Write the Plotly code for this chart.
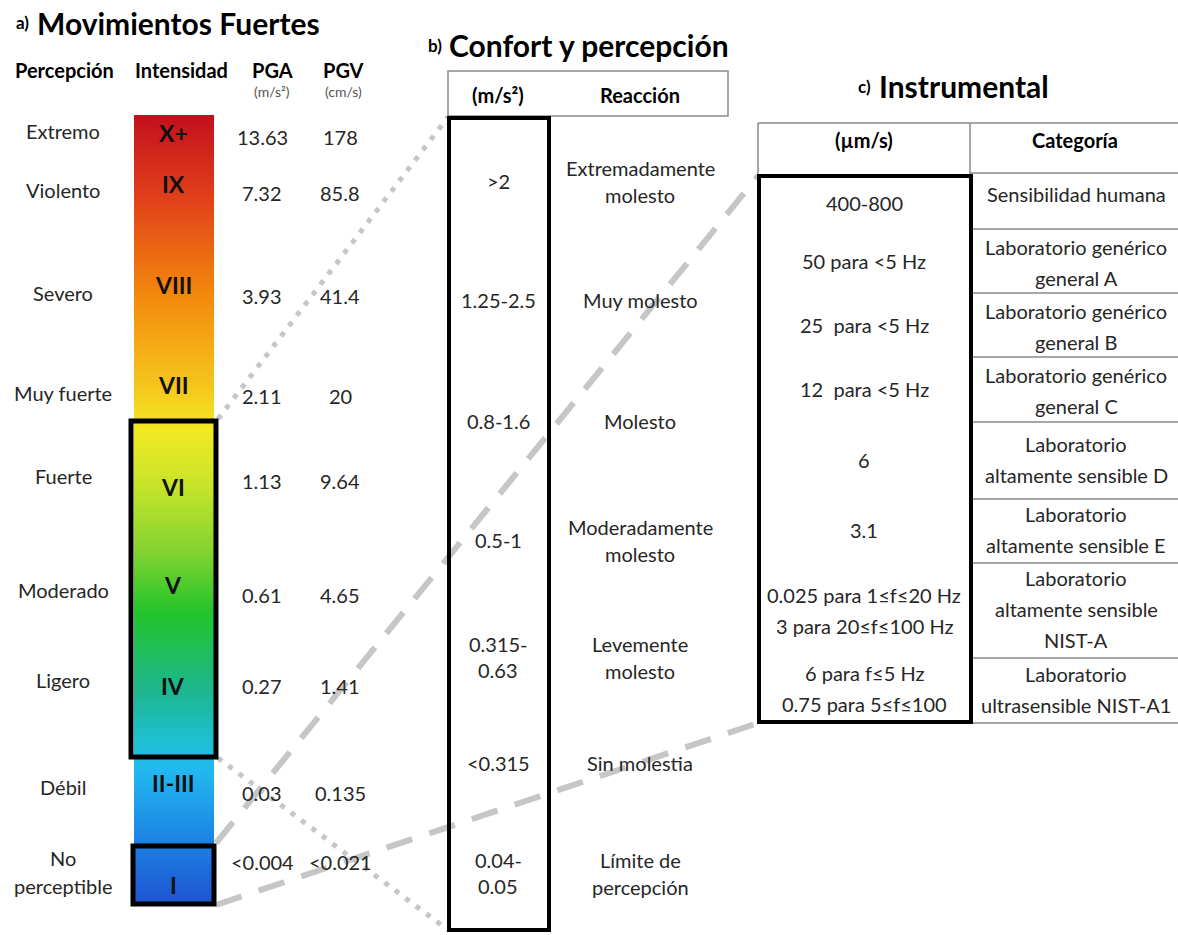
import plotly.graph_objects as go

# ---- Panel a: Movimientos Fuertes ----
percepcion = ["Extremo", "Violento", "Severo", "Muy fuerte", "Fuerte",
              "Moderado", "Ligero", "Débil", "No\nperceptible"]
intensidad = ["X+", "IX", "VIII", "VII", "VI", "V", "IV", "II-III", "I"]
pga = ["13.63", "7.32", "3.93", "2.11", "1.13", "0.61", "0.27", "0.03", "<0.004"]
pgv = ["178", "85.8", "41.4", "20", "9.64", "4.65", "1.41", "0.135", "<0.021"]

# ---- Panel b: Confort y percepción ----
confort_rango = [">2", "1.25-2.5", "0.8-1.6", "0.5-1", "0.315-\n0.63", "<0.315", "0.04-\n0.05"]
reaccion = ["Extremadamente\nmolesto", "Muy molesto", "Molesto", "Moderadamente\nmolesto",
            "Levemente\nmolesto", "Sin molestia", "Límite de\npercepción"]

# ---- Panel c: Instrumental ----
instr_valor = ["400-800", "50 para <5 Hz", "25\u00a0 para <5 Hz", "12\u00a0 para <5 Hz", "6", "3.1",
               "0.025 para 1≤f≤20 Hz\n3 para 20≤f≤100 Hz", "6 para f≤5 Hz\n0.75 para 5≤f≤100"]
categoria = ["Sensibilidad humana", "Laboratorio genérico\ngeneral A",
             "Laboratorio genérico\ngeneral B", "Laboratorio genérico\ngeneral C",
             "Laboratorio\naltamente sensible D", "Laboratorio\naltamente sensible E",
             "Laboratorio\naltamente sensible\nNIST-A", "Laboratorio\nultrasensible NIST-A1"]

# ---- layout positions (pixel canvas, y grows downward) ----
W, H = 1178, 935
a_label_y = [131, 190, 293, 393, 476, 590, 680, 787, 872]
a_value_y = [137, 193, 296, 396, 481, 595, 686, 793, 862]
a_numeral_y = [133, 184, 285, 385, 487, 585, 686, 783, 885]
b_row_y = [181, 300, 421, 540, 657, 763, 873]
c_value_y = [203, 261, 325, 389, 460, 530, 610, 688]
c_cat_y = [194, 262, 326, 390, 459, 529, 609, 689]
c_row_lines = [173, 229, 293, 357, 422, 499, 563, 658, 723]

FONT = "Lato"
TXT = "#262626"

# intensity scale colours, top (extreme) to bottom (imperceptible)
bar_scale = [
    [0.00, "#c40f1c"], [0.11, "#e2421a"], [0.23, "#f38a0c"], [0.34, "#f5c41c"],
    [0.40, "#f2ea22"], [0.47, "#c6e42a"], [0.55, "#86d430"], [0.63, "#22c42a"],
    [0.73, "#1db690"], [0.79, "#1ec0d0"], [0.83, "#22b8f0"], [0.90, "#1c8ee6"],
    [1.00, "#1e52d2"],
]

fig = go.Figure()

bar_x0, bar_x1, bar_y0, bar_y1 = 134, 214, 115, 905
fig.add_trace(go.Scatter(
    x=[bar_x0, bar_x1, bar_x1, bar_x0, bar_x0],
    y=[bar_y0, bar_y0, bar_y1, bar_y1, bar_y0],
    mode="lines", fill="toself", line=dict(width=0),
    fillgradient=dict(type="vertical", colorscale=bar_scale, start=bar_y0, stop=bar_y1),
    hoverinfo="skip", showlegend=False,
))

shapes = []
GREY = "#c6c6c6"
# dotted links from the VI-IV block to panel b
shapes.append(dict(type="line", x0=218, y0=419, x1=448, y1=117,
                   line=dict(color=GREY, width=5, dash="5px,8px")))
shapes.append(dict(type="line", x0=218, y0=758, x1=448, y1=930,
                   line=dict(color=GREY, width=5, dash="5px,8px")))
# dashed links from block I to panel c
shapes.append(dict(type="line", x0=216, y0=843, x1=758, y1=176,
                   line=dict(color=GREY, width=6, dash="27px,18px")))
shapes.append(dict(type="line", x0=216, y0=905, x1=758, y1=723,
                   line=dict(color=GREY, width=6, dash="27px,18px")))

# outlined blocks on the intensity bar
shapes.append(dict(type="rect", x0=131, y0=421, x1=216, y1=757,
                   line=dict(color="black", width=5)))
shapes.append(dict(type="rect", x0=133, y0=846, x1=214, y1=904,
                   line=dict(color="black", width=5)))

THIN = dict(color="#8a8a8a", width=1.5)
# panel b header box
shapes.append(dict(type="rect", x0=448, y0=71, x1=728, y1=116, line=THIN))
# panel b value column
shapes.append(dict(type="rect", x0=449, y0=118, x1=549, y1=930,
                   line=dict(color="black", width=4)))

# panel c header
shapes.append(dict(type="line", x0=758, y0=123, x1=W, y1=123, line=THIN))
shapes.append(dict(type="line", x0=758, y0=123, x1=758, y1=176, line=THIN))
shapes.append(dict(type="line", x0=970, y0=123, x1=970, y1=176, line=THIN))
for yl in c_row_lines:
    shapes.append(dict(type="line", x0=970, y0=yl, x1=W, y1=yl, line=THIN))
shapes.append(dict(type="rect", x0=759, y0=176, x1=971, y1=722,
                   line=dict(color="black", width=4)))

fig.update_layout(shapes=shapes)


def label(x, y, text, size, color=TXT, bold=False, anchor="center"):
    fig.add_annotation(x=x, y=y, xref="x", yref="y", showarrow=False,
                       text=f"<b>{text}</b>" if bold else text,
                       font=dict(size=size, color=color, family=FONT),
                       xanchor=anchor, yanchor="middle")


def block(x, yc, text, size, gap, color=TXT, bold=False):
    lines = text.split("\n")
    n = len(lines)
    for i, ln in enumerate(lines):
        label(x, yc + (i - (n - 1) / 2) * gap, ln, size, color, bold)


BODY = 20
HEAD = 20
TITLE = 30

# panel a titles and headers
label(14, 22, "a)", 17, "black", True, "left")
label(35, 23, "Movimientos Fuertes", TITLE, "black", True, "left")
label(64, 70, "Percepción", HEAD, "black", True)
label(181, 70, "Intensidad", HEAD, "black", True)
label(272, 70, "PGA", HEAD, "black", True)
label(343, 70, "PGV", HEAD, "black", True)
label(272, 91, "(m/s²)", 14, "#555555")
label(343, 91, "(cm/s)", 14, "#555555")

for i in range(len(percepcion)):
    block(63, a_label_y[i], percepcion[i], BODY, 28)
    label(173, a_numeral_y[i], intensidad[i], 23, "#111111", True)
    label(262, a_value_y[i], pga[i], BODY)
    label(340, a_value_y[i], pgv[i], BODY)

# panel b
label(426, 45, "b)", 17, "black", True, "left")
label(447, 45, "Confort y percepción", TITLE, "black", True, "left")
label(498, 95, "(m/s²)", HEAD, "black", True)
label(640, 95, "Reacción", HEAD, "black", True)
for i in range(len(confort_rango)):
    block(498, b_row_y[i], confort_rango[i], BODY, 26)
    block(640, b_row_y[i], reaccion[i], BODY, 27)

# panel c
label(856, 86, "c)", 17, "black", True, "left")
label(877, 86, "Instrumental", TITLE, "black", True, "left")
label(864, 140, "(µm/s)", HEAD, "black", True)
label(1075, 140, "Categoría", HEAD, "black", True)
for i in range(len(instr_valor)):
    block(864, c_value_y[i], instr_valor[i], BODY, 31)
    block(1076, c_cat_y[i], categoria[i], BODY, 31)

fig.update_layout(
    width=W, height=H, margin=dict(l=0, r=0, t=0, b=0),
    paper_bgcolor="white", plot_bgcolor="white", showlegend=False,
    xaxis=dict(range=[0, W], visible=False, fixedrange=True),
    yaxis=dict(range=[H, 0], visible=False, fixedrange=True),
)

fig.write_html("out.html")
